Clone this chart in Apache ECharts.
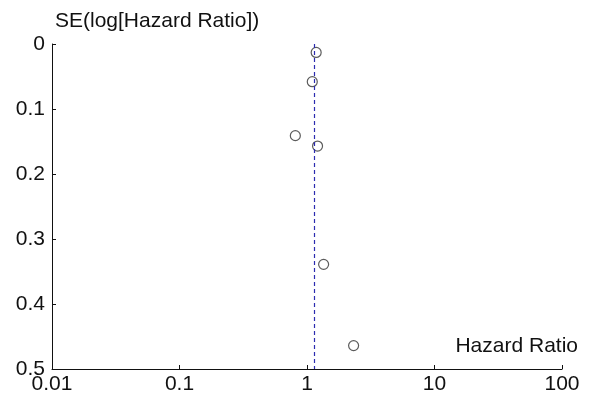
<!DOCTYPE html>
<html>
<head>
<meta charset="utf-8">
<script src="https://cdn.jsdelivr.net/npm/echarts@6/dist/echarts.min.js"></script>
<style>
  html, body { margin: 0; padding: 0; background: #fff; }
  #chart { width: 590px; height: 395px; }
</style>
</head>
<body>
<div id="chart"></div>
<script>
// funnel plot: each study's hazard ratio against its standard error
const hazardRatio = [1.18, 1.10, 0.81, 1.21, 1.35, 2.32];
const seLogHR = [0.013, 0.058, 0.141, 0.157, 0.339, 0.464];
const pooledHR = 1.13;
const xTicks = ['0.01', '0.1', '1', '10', '100'];
const yTicks = ['0', '0.1', '0.2', '0.3', '0.4', '0.5'];

const font = '"Liberation Sans", Arial, Helvetica, sans-serif';
const ink = '#111';

const chart = echarts.init(document.getElementById('chart'));
chart.setOption({
  animation: false,
  textStyle: { fontFamily: font },
  grid: { left: 52, top: 44, right: 28, bottom: 26 },
  xAxis: {
    type: 'log',
    logBase: 10,
    min: 0.01,
    max: 100,
    position: 'bottom',
    axisLine: { onZero: false, lineStyle: { color: ink, width: 1 } },
    axisTick: { inside: true, length: 4, lineStyle: { color: ink } },
    splitLine: { show: false },
    axisLabel: {
      color: ink,
      fontSize: 21,
      margin: 5,
      fontFamily: font,
      formatter: (v, i) => xTicks[i],
    },
  },
  yAxis: {
    type: 'value',
    inverse: true,
    min: 0,
    max: 0.5,
    interval: 0.1,
    axisLine: { show: true, onZero: false, lineStyle: { color: ink, width: 1 } },
    axisTick: { show: true, inside: true, length: 4, lineStyle: { color: ink } },
    splitLine: { show: false },
    axisLabel: {
      color: ink,
      fontSize: 21,
      margin: 7,
      fontFamily: font,
      formatter: (v, i) => yTicks[i],
    },
  },
  graphic: [
    {
      type: 'text',
      left: 55,
      top: 11,
      style: { text: 'SE(log[Hazard Ratio])', fill: ink, font: '21px ' + font },
    },
    {
      type: 'text',
      right: 12,
      top: 336,
      style: { text: 'Hazard Ratio', fill: ink, font: '21px ' + font },
    },
  ],
  series: [
    {
      type: 'scatter',
      data: hazardRatio.map((hr, i) => [hr, seLogHR[i]]),
      symbol: 'circle',
      symbolSize: 10,
      itemStyle: { color: '#fff', borderColor: '#333', borderWidth: 1.2 },
      markLine: {
        silent: true,
        symbol: 'none',
        label: { show: false },
        lineStyle: { color: '#2b2bb0', type: [4, 3], width: 1.2 },
        data: [{ xAxis: pooledHR }],
      },
      z: 3,
    },
  ],
});
</script>
</body>
</html>
